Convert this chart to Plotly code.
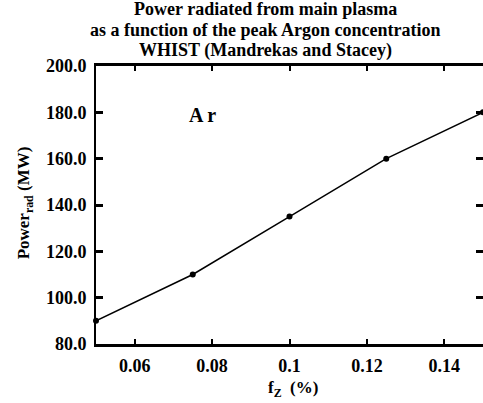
import plotly.graph_objects as go

fz = [0.05, 0.075, 0.1, 0.125, 0.15]
power = [90, 110, 135, 160, 180]
xticks = [0.06, 0.08, 0.1, 0.12, 0.14]
yticks = [80, 100, 120, 140, 160, 180, 200]
title_lines = ["Power radiated from main plasma",
               "as a function of the peak Argon concentration",
               "WHIST (Mandrekas and Stacey)"]

W, H = 488, 403
L, R, T, B = 96, 3, 66, 59
PW, PH = W - L - R, H - T - B
FONT = "Liberation Serif"


def px_x(x):
    return (x - L) / PW


def px_y(y):
    return (H - B - y) / PH


fig = go.Figure()
fig.add_trace(go.Scatter(x=fz, y=power, mode="lines+markers",
                         line=dict(color="black", width=1.5),
                         marker=dict(color="black", size=6),
                         cliponaxis=False, showlegend=False))

fig.update_layout(
    width=W, height=H,
    margin=dict(l=L, r=R, t=T, b=B),
    plot_bgcolor="white", paper_bgcolor="white",
    font=dict(family=FONT, color="black", size=18),
    xaxis=dict(range=[0.05, 0.15], tickvals=xticks, ticktext=[str(v) for v in xticks],
               ticks="inside", ticklen=5, tickwidth=2, tickcolor="black",
               showline=True, linewidth=3, linecolor="black", mirror="ticks",
               showgrid=False, zeroline=False, ticklabelstandoff=3,
               tickfont=dict(family=FONT, size=18, weight="bold")),
    yaxis=dict(range=[80, 200], tickvals=yticks, tickformat=".1f",
               ticks="inside", ticklen=7, tickwidth=3, tickcolor="black",
               showline=True, linewidth=2, linecolor="black", mirror="ticks",
               showgrid=False, zeroline=False, ticklabelstandoff=4,
               tickfont=dict(family=FONT, size=18, weight="bold")),
)

for line, yc in zip(title_lines, [9.5, 30, 50.5]):
    fig.add_annotation(xref="paper", yref="paper", x=px_x(266), y=px_y(yc),
                       xanchor="center", yanchor="middle", showarrow=False,
                       text="<b>" + line + "</b>", font=dict(family=FONT, size=18))

fig.add_annotation(xref="paper", yref="paper", x=px_x(294), y=px_y(389),
                   xanchor="center", yanchor="middle", showarrow=False,
                   text="<b>f<sub>Z</sub>  (%)</b>", font=dict(family=FONT, size=17))
fig.add_annotation(xref="paper", yref="paper", x=px_x(25), y=px_y(203), textangle=-90,
                   xanchor="center", yanchor="middle", showarrow=False,
                   text="<b>Power<sub>rad</sub> (MW)</b>", font=dict(family=FONT, size=17))
fig.add_annotation(xref="paper", yref="paper", x=px_x(203), y=px_y(115),
                   xanchor="center", yanchor="middle", showarrow=False,
                   text="<b>A r</b>", font=dict(family=FONT, size=20))

fig.write_html("out.html", config={"displayModeBar": False},
               post_script="document.body.style.margin='0';document.body.style.overflow='hidden';document.documentElement.style.overflow='hidden';")
